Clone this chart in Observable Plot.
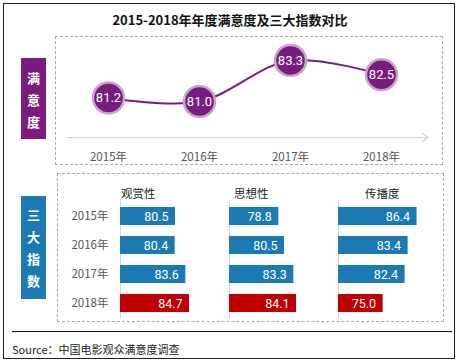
<!DOCTYPE html>
<html><head><meta charset="utf-8">
<script src="https://cdn.jsdelivr.net/npm/d3@7"></script>
<script src="https://cdn.jsdelivr.net/npm/@observablehq/plot@0.6"></script>
<style>
html,body{margin:0;padding:0;background:#fff;}
#wrap{position:relative;width:462px;height:362px;overflow:hidden;font-family:"Noto Sans CJK SC","Noto Sans",sans-serif;}
.abs{position:absolute;}
.frame{position:absolute;border:1px dashed #aaa;box-sizing:border-box;}
.tag{position:absolute;color:#fff;font-weight:bold;font-size:13px;text-align:center;box-sizing:border-box;}
.tag span{display:block;height:22px;line-height:22px;}
.hdr{position:absolute;font-size:11.5px;color:#222;line-height:14px;}
</style></head>
<body><div id="wrap"></div>
<script>
const years = ["2015年", "2016年", "2017年", "2018年"];
const satisfaction = [81.2, 81.0, 83.3, 82.5];
const categories = ["观赏性", "思想性", "传播度"];
const ornamental = [80.5, 80.4, 83.6, 84.7];
const ideological = [78.8, 80.5, 83.3, 84.1];
const communication = [86.4, 83.4, 82.4, 75.0];
const titleText = "2015-2018年年度满意度及三大指数对比";
const sourceText = "Source：中国电影观众满意度调查";

const purple = "#7a1c7d", ring = "#c9a2ce", blue = "#1b7ab1", red = "#c00000";
const numFont = "Roboto, 'Open Sans', sans-serif";
const wrap = document.getElementById("wrap");

function place(el, left, top) {
  el.style.position = "absolute"; el.style.left = left + "px"; el.style.top = top + "px";
  wrap.appendChild(el); return el;
}
function div(cls, html, css) {
  const d = document.createElement("div"); d.className = cls; d.innerHTML = html;
  Object.assign(d.style, css); wrap.appendChild(d); return d;
}

// outer border, separator, title, source
div("abs", "", {left:"3px", top:"3px", width:"452px", height:"356px", border:"1.5px solid #222", boxSizing:"border-box"});
div("abs", "", {left:"12px", top:"331px", width:"440px", height:"0", borderTop:"1.5px solid #111"});
div("abs", titleText, {left:"0", top:"11px", width:"460px", textAlign:"center", fontWeight:"bold", fontSize:"13px", color:"#111", lineHeight:"18px"});
div("abs", sourceText, {left:"12px", top:"341px", fontSize:"11px", color:"#222", lineHeight:"16px"});

// dashed panels
div("frame", "", {left:"55px", top:"36px", width:"388px", height:"129px"});
div("frame", "", {left:"57px", top:"173px", width:"387px", height:"149px"});

// side tags
div("tag", "<span>满</span><span>意</span><span>度</span>", {left:"21px", top:"58px", width:"25px", height:"81px", background:purple, paddingTop:"9px"});
div("tag", "<span>三</span><span>大</span><span>指</span><span>数</span>", {left:"21px", top:"196px", width:"25px", height:"103px", background:blue, paddingTop:"8px"});

// axis arrow decoration (top panel)
const ns = "http://www.w3.org/2000/svg";
const arr = document.createElementNS(ns, "svg");
arr.setAttribute("width", "462"); arr.setAttribute("height", "362");
arr.style.position = "absolute"; arr.style.left = "0"; arr.style.top = "0";
arr.innerHTML = '<path d="M67,137.5H428M422,133L428,137.5L422,142" fill="none" stroke="#d0d0d0" stroke-width="1.2"/>';
wrap.appendChild(arr);

// line chart
const lineData = years.map((y, i) => ({year: y, v: satisfaction[i]}));
const linePlot = Plot.plot({
  width: 387, height: 129,
  marginTop: 0, marginLeft: 0, marginRight: 0, marginBottom: 20,
  style: {background: "transparent", fontFamily: numFont, overflow: "visible"},
  x: {type: "point", domain: years, range: [52, 326], padding: 0},
  y: {domain: [81.0, 83.3], range: [65, 24], axis: null},
  marks: [
    Plot.line(lineData, {x: "year", y: "v", curve: "catmull-rom", stroke: purple, strokeWidth: 2}),
    Plot.dot(lineData, {x: "year", y: "v", r: 15.5, fill: purple, stroke: ring, strokeWidth: 2.5}),
    Plot.text(lineData, {x: "year", y: "v", text: d => d.v.toFixed(1), fill: "white", fontSize: 13}),
    Plot.axisX({anchor: "bottom", label: null, tickSize: 0, tickPadding: 7, fontSize: 11.5, color: "#555", fontFamily: "'Noto Sans CJK SC', sans-serif"})
  ]
});
place(linePlot, 55, 36);

// bar charts
const groups = [
  {name: categories[0], values: ornamental, domain: [64, 94], width: 100, left: 120, hdr: 121},
  {name: categories[1], values: ideological, domain: [64, 94], width: 100, left: 229, hdr: 234},
  {name: categories[2], values: communication, domain: [60, 100], width: 119, left: 338, hdr: 365}
];
groups.forEach((g, gi) => {
  const data = years.map((y, i) => ({year: y, v: g.values[i]}));
  const ml = gi === 0 ? 60 : 0;
  const p = Plot.plot({
    width: g.width + ml, height: 129,
    marginTop: 0, marginBottom: 0, marginLeft: ml, marginRight: 0,
    style: {background: "transparent", fontFamily: numFont, overflow: "visible"},
    x: {domain: g.domain, axis: null},
    y: {type: "band", domain: years, paddingInner: 0.385, paddingOuter: 0.385, axis: null},
    marks: [
      Plot.ruleX([g.domain[0]], {stroke: "#d4d4d4", insetTop: 5, insetBottom: 6}),
      Plot.barX(data, {x1: g.domain[0], x2: "v", y: "year", fill: d => d.year === "2018年" ? red : blue}),
      Plot.text(data, {x: "v", y: "year", text: d => d.v.toFixed(1), dx: -7, textAnchor: "end", fill: "white", fontSize: 12.5}),
      gi === 0 ? Plot.axisY({anchor: "left", label: null, tickSize: 0, tickPadding: 12, fontSize: 11.5, color: "#555", fontFamily: "'Noto Sans CJK SC', sans-serif"}) : null
    ]
  });
  place(p, g.left - ml, 195);
  div("hdr", g.name, {left: g.hdr + "px", top: "186px"});
});
</script></body></html>
